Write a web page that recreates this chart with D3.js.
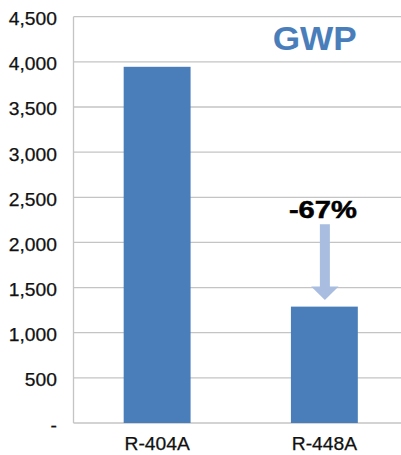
<!DOCTYPE html>
<html><head><meta charset="utf-8">
<script src="https://cdn.jsdelivr.net/npm/d3@7"></script>
<style>html,body{margin:0;padding:0;background:#fff;}svg{display:block;}</style>
</head><body>
<script>
const categories = ["R-404A", "R-448A"];
const values = [3945, 1289];
const yTicks = [0, 500, 1000, 1500, 2000, 2500, 3000, 3500, 4000, 4500];
const yTickLabels = ["-", "500", "1,000", "1,500", "2,000", "2,500", "3,000", "3,500", "4,000", "4,500"];
const title = "GWP";
const changeLabel = "-67%";

const W = 401, H = 455;
const m = {left: 73.5, top: 16.7, right: -7, bottom: 32};
const svg = d3.select("body").append("svg").attr("width", W).attr("height", H);
const stretch = 1.1;

const x = d3.scaleBand().domain(categories).range([m.left, W - m.right]).paddingInner(0.6).paddingOuter(0.3);
const y = d3.scaleLinear().domain([0, 4500]).range([423, m.top]);

function stretchText(sel){
  sel.each(function(){ const l = this.getComputedTextLength(); d3.select(this).attr("textLength", l*stretch).attr("lengthAdjust","spacingAndGlyphs"); });
}

// gridlines
svg.append("g").selectAll("line").data(yTicks).join("line")
  .attr("x1", m.left).attr("x2", W).attr("y1", d => y(d)).attr("y2", d => y(d))
  .attr("stroke", "#c4c4c4").attr("stroke-width", 1.3);
// left axis line
svg.append("line").attr("x1", m.left).attr("x2", m.left).attr("y1", y(4500)).attr("y2", y(0))
  .attr("stroke", "#c4c4c4").attr("stroke-width", 1.3);

// y labels
svg.append("g").selectAll("text").data(yTicks).join("text")
  .attr("x", 57).attr("y", d => y(d) + 8.5)
  .attr("text-anchor", "end").attr("font-family", "Liberation Sans, Arial, sans-serif")
  .attr("font-size", 17.5).attr("fill", "#111").attr("stroke", "#111").attr("stroke-width", 0.25)
  .text((d,i) => yTickLabels[i]).call(stretchText);

// bars
svg.append("g").selectAll("rect").data(values).join("rect")
  .attr("x", (d,i) => x(categories[i])).attr("width", x.bandwidth())
  .attr("y", d => y(d)).attr("height", d => y(0) - y(d))
  .attr("fill", "#4a7ebb");

// x labels
svg.append("g").selectAll("text").data(categories).join("text")
  .attr("x", d => x(d) + x.bandwidth()/2).attr("y", 449.5)
  .attr("text-anchor", "middle").attr("font-family", "Liberation Sans, Arial, sans-serif")
  .attr("font-size", 17.5).attr("fill", "#111").attr("stroke", "#111").attr("stroke-width", 0.25)
  .text(d => d).call(stretchText);

// title
svg.append("text").attr("x", 314.7).attr("y", 50)
  .attr("text-anchor", "middle").attr("font-family", "Liberation Sans, Arial, sans-serif")
  .attr("font-weight", "bold").attr("font-size", 33.5).attr("fill", "#4a7ebb")
  .text(title).call(s => s.attr("textLength", 84).attr("lengthAdjust","spacingAndGlyphs"));

// change annotation
const cx = x(categories[1]) + x.bandwidth()/2;
svg.append("text").attr("x", cx - 1.5).attr("y", 217.7)
  .attr("text-anchor", "middle").attr("font-family", "Liberation Sans, Arial, sans-serif")
  .attr("font-weight", "bold").attr("font-size", 24.5).attr("fill", "#000").attr("stroke", "#000").attr("stroke-width", 0.5)
  .text(changeLabel).call(s => s.attr("textLength", 68).attr("lengthAdjust","spacingAndGlyphs"));

const tipY = y(values[1]) - 6.7, shaftTop = 224.3, headBase = tipY - 13.3;
const ax = cx + 0.5;
svg.append("path")
  .attr("d", `M${ax-5},${shaftTop} L${ax+5},${shaftTop} L${ax+5},${headBase} L${ax+13.7},${headBase} L${ax},${tipY} L${ax-13.7},${headBase} L${ax-5},${headBase} Z`)
  .attr("fill", "#a8bde0");
</script>
</body></html>
